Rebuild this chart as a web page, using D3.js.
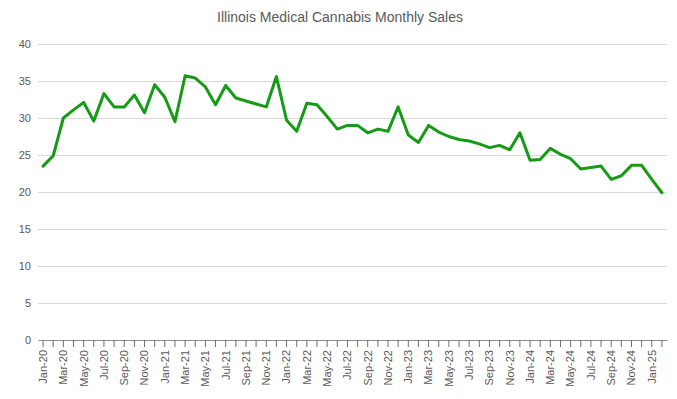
<!DOCTYPE html>
<html>
<head>
<meta charset="utf-8">
<script src="https://cdn.jsdelivr.net/npm/d3@7"></script>
<style>
  html, body { margin: 0; padding: 0; background: #fff; }
  svg { display: block; font-family: "Liberation Sans", Arial, sans-serif; }
</style>
</head>
<body>
<svg id="chart" width="677" height="399"></svg>
<script>
const title = "Illinois Medical Cannabis Monthly Sales";
const months = [
  "Jan-20","Feb-20","Mar-20","Apr-20","May-20","Jun-20","Jul-20","Aug-20","Sep-20","Oct-20","Nov-20","Dec-20",
  "Jan-21","Feb-21","Mar-21","Apr-21","May-21","Jun-21","Jul-21","Aug-21","Sep-21","Oct-21","Nov-21","Dec-21",
  "Jan-22","Feb-22","Mar-22","Apr-22","May-22","Jun-22","Jul-22","Aug-22","Sep-22","Oct-22","Nov-22","Dec-22",
  "Jan-23","Feb-23","Mar-23","Apr-23","May-23","Jun-23","Jul-23","Aug-23","Sep-23","Oct-23","Nov-23","Dec-23",
  "Jan-24","Feb-24","Mar-24","Apr-24","May-24","Jun-24","Jul-24","Aug-24","Sep-24","Oct-24","Nov-24","Dec-24",
  "Jan-25","Feb-25"
];
const sales = [
  23.5, 24.9, 30.0, 31.1, 32.1, 29.6, 33.3, 31.5, 31.5, 33.1, 30.7, 34.5,
  32.8, 29.5, 35.7, 35.4, 34.2, 31.8, 34.4, 32.7, 32.3, 31.9, 31.5, 35.6,
  29.7, 28.2, 32.0, 31.8, 30.2, 28.5, 29.0, 29.0, 28.0, 28.5, 28.2, 31.5,
  27.7, 26.7, 29.0, 28.1, 27.5, 27.1, 26.9, 26.5, 26.0, 26.3, 25.7, 28.0,
  24.3, 24.4, 25.9, 25.1, 24.5, 23.1, 23.3, 23.5, 21.7, 22.2, 23.6, 23.6,
  21.7, 19.9
];
const yTicks = [0, 5, 10, 15, 20, 25, 30, 35, 40];

const svg = d3.select("#chart");
const mLeft = 38, mRight = 667, mTop = 44, mBottom = 340;

const x = d3.scaleBand().domain(months).range([mLeft, mRight]).padding(0);
const y = d3.scaleLinear().domain([0, 40]).range([mBottom, mTop]);

// title
svg.append("text")
  .attr("x", 340).attr("y", 22)
  .attr("text-anchor", "middle")
  .attr("font-size", 14)
  .attr("fill", "#595959")
  .text(title);

// grid + y labels
const yAxis = d3.axisLeft(y).tickValues(yTicks).tickSize(-(mRight - mLeft)).tickPadding(7);
const gy = svg.append("g").attr("transform", `translate(${mLeft},0)`).call(yAxis);
gy.select(".domain").remove();
gy.selectAll(".tick line").attr("stroke", "#d9d9d9").attr("stroke-width", 1);
gy.selectAll(".tick text").attr("fill", "#595959").attr("font-size", 11)
  .attr("font-family", "Liberation Sans, Arial, sans-serif");

// x axis
const xAxis = d3.axisBottom(x).tickSizeInner(7).tickSizeOuter(0).tickPadding(3)
  .tickFormat((d, i) => i % 2 === 0 ? d : "");
const gx = svg.append("g").attr("transform", `translate(0,${mBottom})`).call(xAxis);
gx.select(".domain").attr("stroke", "#8c8c8c");
gx.selectAll(".tick line").attr("stroke", "#6e6e6e");
gx.selectAll(".tick text")
  .attr("fill", "#595959").attr("font-size", 11)
  .attr("font-family", "Liberation Sans, Arial, sans-serif")
  .attr("text-anchor", "end")
  .attr("dy", "0.35em")
  .attr("transform", "translate(0,10) rotate(-90)")
  .attr("x", 0).attr("y", 0);

// line
const line = d3.line()
  .x((d, i) => x(months[i]) + x.bandwidth() / 2)
  .y(d => y(d));
svg.append("path")
  .datum(sales)
  .attr("fill", "none")
  .attr("stroke", "#169b16")
  .attr("stroke-width", 3)
  .attr("stroke-linejoin", "round")
  .attr("stroke-linecap", "round")
  .attr("d", line);
</script>
</body>
</html>
